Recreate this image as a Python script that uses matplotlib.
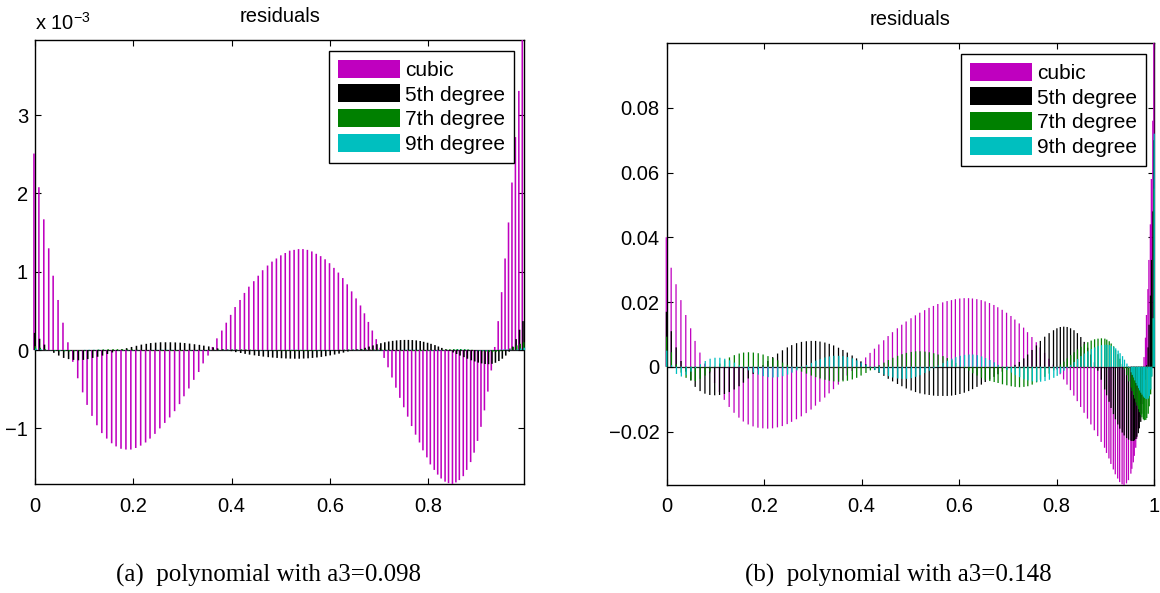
import numpy as np
import matplotlib
matplotlib.use("Agg")
import matplotlib.pyplot as plt

# ---------------------------------------------------------------- data
# (a) a3 = 0.098 : sample points and residuals, values in units of 1e-3
xa = [0.000, 0.010, 0.020, 0.030, 0.039, 0.049, 0.059, 0.069, 0.079, 0.089,
      0.099, 0.108, 0.118, 0.128, 0.138, 0.148, 0.158, 0.167, 0.177, 0.187,
      0.197, 0.207, 0.217, 0.227, 0.236, 0.246, 0.256, 0.266, 0.276, 0.286,
      0.296, 0.305, 0.315, 0.325, 0.335, 0.344, 0.354, 0.363, 0.372, 0.382,
      0.391, 0.400, 0.409, 0.419, 0.428, 0.437, 0.447, 0.456, 0.465, 0.475,
      0.484, 0.493, 0.502, 0.511, 0.520, 0.529, 0.538, 0.547, 0.556, 0.565,
      0.574, 0.583, 0.592, 0.601, 0.610, 0.619, 0.628, 0.637, 0.646, 0.655,
      0.664, 0.672, 0.680, 0.688, 0.696, 0.704, 0.712, 0.720, 0.728, 0.736,
      0.744, 0.752, 0.760, 0.768, 0.776, 0.784, 0.791, 0.799, 0.806, 0.814,
      0.821, 0.828, 0.836, 0.843, 0.851, 0.858, 0.865, 0.873, 0.880, 0.888,
      0.895, 0.902, 0.909, 0.916, 0.923, 0.930, 0.937, 0.944, 0.951, 0.958,
      0.965, 0.972, 0.979, 0.986, 0.993]

a_cubic = [2.51, 2.08, 1.67, 1.30, 0.95, 0.64, 0.35, 0.10, -0.15, -0.36,
           -0.54, -0.70, -0.84, -0.96, -1.06, -1.13, -1.19, -1.23, -1.26, -1.27,
           -1.27, -1.25, -1.22, -1.18, -1.13, -1.07, -1.00, -0.93, -0.86, -0.78,
           -0.69, -0.59, -0.49, -0.38, -0.28, -0.17, -0.07, 0.04, 0.15, 0.25,
           0.35, 0.45, 0.55, 0.64, 0.73, 0.81, 0.88, 0.95, 1.02, 1.08,
           1.13, 1.17, 1.21, 1.24, 1.27, 1.28, 1.29, 1.29, 1.28, 1.26,
           1.23, 1.20, 1.16, 1.11, 1.05, 0.99, 0.92, 0.84, 0.75, 0.66,
           0.57, 0.47, 0.36, 0.25, 0.14, 0.03, -0.10, -0.22, -0.35, -0.48,
           -0.61, -0.73, -0.85, -0.97, -1.08, -1.18, -1.28, -1.37, -1.46, -1.53,
           -1.59, -1.64, -1.68, -1.70, -1.71, -1.69, -1.66, -1.61, -1.53, -1.43,
           -1.31, -1.16, -0.98, -0.77, -0.53, -0.26, 0.04, 0.37, 0.74, 1.17,
           1.63, 2.14, 2.72, 3.31, 3.96]

a_deg5 = [0.22, 0.145, 0.07, 0.0, -0.035, -0.07, -0.10, -0.115, -0.125, -0.13,
          -0.125, -0.115, -0.10, -0.085, -0.07, -0.05, -0.03, -0.01, 0.01, 0.025,
          0.04, 0.055, 0.07, 0.08, 0.09, 0.095, 0.10, 0.10, 0.10, 0.098,
          0.095, 0.09, 0.083, 0.075, 0.067, 0.057, 0.047, 0.035, 0.022, 0.01,
          -0.002, -0.014, -0.026, -0.037, -0.048, -0.058, -0.067, -0.075, -0.083, -0.09,
          -0.096, -0.10, -0.104, -0.107, -0.109, -0.11, -0.11, -0.108, -0.105, -0.10,
          -0.094, -0.087, -0.078, -0.068, -0.057, -0.045, -0.032, -0.018, -0.005, 0.008,
          0.015, 0.03, 0.045, 0.06, 0.075, 0.088, 0.10, 0.11, 0.118, 0.124,
          0.128, 0.13, 0.13, 0.128, 0.124, 0.116, 0.106, 0.094, 0.08, 0.064,
          0.046, 0.028, 0.01, -0.01, -0.03, -0.05, -0.07, -0.09, -0.11, -0.13,
          -0.145, -0.16, -0.17, -0.178, -0.18, -0.175, -0.162, -0.14, -0.11, -0.07,
          -0.02, 0.045, 0.14, 0.26, 0.37]

a_deg7 = [0.05, 0.03, 0.012, 0.0, -0.008, -0.013, -0.015, -0.015, -0.013, -0.01,
          -0.006, -0.002, 0.002, 0.006, 0.009, 0.011, 0.012, 0.012, 0.011, 0.009,
          0.007, 0.004, 0.001, -0.002, -0.005, -0.007, -0.009, -0.01, -0.01, -0.01,
          -0.009, -0.007, -0.005, -0.003, -0.001, 0.002, 0.004, 0.006, 0.008, 0.009,
          0.01, 0.01, 0.01, 0.009, 0.008, 0.006, 0.004, 0.002, 0.0, -0.002,
          -0.004, -0.006, -0.007, -0.008, -0.009, -0.01, -0.01, -0.01, -0.009, -0.008,
          -0.006, -0.004, -0.002, 0.0, 0.002, 0.004, 0.006, 0.008, 0.009, 0.01,
          0.011, 0.011, 0.011, 0.01, 0.009, 0.007, 0.005, 0.003, 0.0, -0.003,
          -0.006, -0.008, -0.01, -0.012, -0.012, -0.012, -0.011, -0.009, -0.006, -0.003,
          0.0, 0.004, 0.008, 0.011, 0.013, 0.014, 0.014, 0.012, 0.009, 0.004,
          -0.002, -0.008, -0.014, -0.019, -0.022, -0.023, -0.021, -0.016, -0.008, 0.004,
          0.02, 0.04, 0.06, 0.08, 0.10]

a_deg9 = [0.02, 0.01, 0.003, -0.002, -0.004, -0.005, -0.004, -0.003, -0.001, 0.001,
          0.003, 0.004, 0.004, 0.004, 0.003, 0.001, -0.001, -0.003, -0.004, -0.004,
          -0.004, -0.003, -0.001, 0.001, 0.002, 0.003, 0.004, 0.004, 0.003, 0.002,
          0.0, -0.002, -0.003, -0.004, -0.004, -0.003, -0.002, 0.0, 0.002, 0.003,
          0.004, 0.004, 0.003, 0.002, 0.0, -0.002, -0.003, -0.004, -0.004, -0.003,
          -0.002, 0.0, 0.002, 0.003, 0.004, 0.004, 0.003, 0.002, 0.0, -0.002,
          -0.003, -0.004, -0.004, -0.003, -0.002, 0.0, 0.002, 0.003, 0.004, 0.004,
          0.003, 0.002, 0.0, -0.002, -0.003, -0.004, -0.004, -0.003, -0.001, 0.001,
          0.003, 0.004, 0.005, 0.004, 0.003, 0.001, -0.001, -0.003, -0.005, -0.005,
          -0.005, -0.003, -0.001, 0.002, 0.004, 0.006, 0.006, 0.005, 0.003, 0.0,
          -0.003, -0.006, -0.007, -0.007, -0.005, -0.002, 0.002, 0.006, 0.008, 0.008,
          0.005, 0.0, 0.01, 0.02, 0.03]

# (b) a3 = 0.148 : sample points and residuals, values in units of 1e-2
xb = [0.000, 0.010, 0.020, 0.030, 0.040, 0.050, 0.059, 0.069, 0.079, 0.089,
      0.099, 0.109, 0.119, 0.129, 0.139, 0.149, 0.158, 0.168, 0.178, 0.188,
      0.198, 0.208, 0.218, 0.228, 0.238, 0.248, 0.257, 0.267, 0.277, 0.287,
      0.297, 0.306, 0.315, 0.325, 0.334, 0.343, 0.353, 0.362, 0.371, 0.381,
      0.390, 0.399, 0.409, 0.418, 0.427, 0.436, 0.446, 0.455, 0.464, 0.474,
      0.483, 0.492, 0.502, 0.511, 0.520, 0.530, 0.539, 0.548, 0.557, 0.567,
      0.576, 0.585, 0.593, 0.602, 0.611, 0.620, 0.628, 0.637, 0.646, 0.654,
      0.663, 0.672, 0.680, 0.689, 0.698, 0.707, 0.715, 0.724, 0.733, 0.741,
      0.750, 0.759, 0.767, 0.776, 0.785, 0.794, 0.801, 0.808, 0.815, 0.822,
      0.829, 0.836, 0.843, 0.850, 0.857, 0.864, 0.871, 0.878, 0.885, 0.892,
      0.899, 0.903, 0.908, 0.912, 0.917, 0.921, 0.926, 0.930, 0.935, 0.939,
      0.944, 0.948, 0.953, 0.955, 0.958, 0.960, 0.963, 0.965, 0.968, 0.970,
      0.973, 0.975, 0.978, 0.980, 0.983, 0.985, 0.988, 0.990, 0.993, 0.995,
      0.998, 1.000]

b_cubic = [4.0, 3.06, 2.55, 2.06, 1.6, 1.19, 0.8, 0.44, 0.1, -0.2,
           -0.5, -0.78, -1.02, -1.24, -1.42, -1.57, -1.69, -1.78, -1.84, -1.88,
           -1.9, -1.91, -1.9, -1.87, -1.83, -1.77, -1.7, -1.62, -1.53, -1.43,
           -1.32, -1.2, -1.08, -0.95, -0.82, -0.69, -0.55, -0.41, -0.27, -0.13,
           0.01, 0.15, 0.29, 0.43, 0.56, 0.69, 0.82, 0.95, 1.07, 1.19,
           1.3, 1.4, 1.5, 1.59, 1.67, 1.75, 1.82, 1.88, 1.94, 1.99,
           2.03, 2.06, 2.09, 2.11, 2.12, 2.12, 2.11, 2.09, 2.06, 2.02,
           1.97, 1.91, 1.84, 1.76, 1.67, 1.57, 1.46, 1.34, 1.21, 1.07,
           0.92, 0.76, 0.6, 0.43, 0.25, 0.07, -0.08, -0.23, -0.39, -0.55,
           -0.72, -0.89, -1.06, -1.24, -1.42, -1.6, -1.78, -1.96, -2.14, -2.32,
           -2.5, -2.66, -2.83, -3.0, -3.17, -3.32, -3.45, -3.56, -3.63, -3.65,
           -3.6, -3.5, -3.3, -3.15, -2.95, -2.75, -2.5, -2.22, -1.9, -1.55,
           -1.15, -0.7, -0.25, 0.3, 0.9, 1.6, 2.4, 3.3, 4.4, 5.8,
           7.6, 10.0]

b_deg5 = [1.7, 1.1, 0.6, 0.18, -0.15, -0.42, -0.62, -0.75, -0.83, -0.87,
          -0.88, -0.87, -0.84, -0.78, -0.7, -0.6, -0.49, -0.36, -0.22, -0.08,
          0.05, 0.18, 0.3, 0.41, 0.51, 0.6, 0.67, 0.73, 0.77, 0.79,
          0.8, 0.8, 0.78, 0.75, 0.71, 0.66, 0.59, 0.52, 0.44, 0.35,
          0.26, 0.17, 0.08, -0.01, -0.1, -0.19, -0.28, -0.37, -0.45, -0.53,
          -0.6, -0.67, -0.73, -0.78, -0.82, -0.85, -0.87, -0.89, -0.9, -0.9,
          -0.9, -0.89, -0.87, -0.84, -0.8, -0.75, -0.69, -0.62, -0.55, -0.47,
          -0.39, -0.31, -0.23, -0.15, -0.07, 0.0, 0.06, 0.15, 0.26, 0.38,
          0.52, 0.66, 0.8, 0.93, 1.04, 1.13, 1.19, 1.23, 1.24, 1.23,
          1.19, 1.13, 1.04, 0.92, 0.77, 0.59, 0.38, 0.14, -0.12, -0.4,
          -0.7, -0.88, -1.08, -1.27, -1.46, -1.62, -1.78, -1.91, -2.03, -2.12,
          -2.2, -2.25, -2.28, -2.29, -2.29, -2.27, -2.23, -2.16, -2.05, -1.9,
          -1.7, -1.45, -1.15, -0.8, -0.4, 0.05, 0.6, 1.3, 2.2, 3.3,
          4.8, 7.0]

b_deg7 = [0.93, 0.45, 0.08, -0.18, -0.34, -0.42, -0.44, -0.37, -0.27, -0.15,
          -0.02, 0.1, 0.2, 0.29, 0.36, 0.41, 0.44, 0.45, 0.44, 0.42,
          0.38, 0.33, 0.27, 0.2, 0.13, 0.06, -0.01, -0.08, -0.15, -0.21,
          -0.27, -0.32, -0.36, -0.4, -0.43, -0.45, -0.46, -0.45, -0.43, -0.39,
          -0.34, -0.27, -0.19, -0.11, -0.03, 0.05, 0.13, 0.21, 0.28, 0.34,
          0.39, 0.43, 0.46, 0.48, 0.48, 0.47, 0.45, 0.42, 0.38, 0.33,
          0.27, 0.2, 0.12, 0.04, -0.04, -0.12, -0.2, -0.27, -0.34, -0.4,
          -0.44, -0.47, -0.5, -0.54, -0.57, -0.6, -0.62, -0.63, -0.62, -0.6,
          -0.55, -0.48, -0.4, -0.31, -0.21, -0.11, -0.02, 0.07, 0.16, 0.26,
          0.36, 0.45, 0.54, 0.62, 0.7, 0.76, 0.81, 0.85, 0.87, 0.88,
          0.87, 0.84, 0.79, 0.72, 0.63, 0.52, 0.39, 0.25, 0.09, -0.08,
          -0.26, -0.45, -0.64, -0.75, -0.87, -0.98, -1.1, -1.2, -1.31, -1.4,
          -1.49, -1.56, -1.62, -1.65, -1.64, -1.58, -1.45, -1.22, -0.85, -0.3,
          1.5, 5.5]

b_deg9 = [0.5, 0.05, -0.22, -0.3, -0.25, -0.15, -0.04, 0.08, 0.18, 0.25,
          0.28, 0.28, 0.25, 0.2, 0.13, 0.05, -0.03, -0.11, -0.18, -0.24,
          -0.29, -0.32, -0.33, -0.32, -0.29, -0.24, -0.18, -0.11, -0.03, 0.05,
          0.12, 0.19, 0.24, 0.29, 0.32, 0.34, 0.34, 0.33, 0.3, 0.26,
          0.2, 0.13, 0.06, -0.02, -0.1, -0.17, -0.24, -0.29, -0.33, -0.36,
          -0.37, -0.37, -0.35, -0.31, -0.26, -0.19, -0.12, -0.04, 0.04, 0.12,
          0.19, 0.25, 0.3, 0.34, 0.37, 0.38, 0.38, 0.36, 0.32, 0.27,
          0.21, 0.14, 0.06, -0.02, -0.1, -0.18, -0.26, -0.32, -0.38, -0.42,
          -0.45, -0.46, -0.46, -0.44, -0.4, -0.34, -0.28, -0.2, -0.12, -0.03,
          0.06, 0.15, 0.24, 0.33, 0.41, 0.48, 0.55, 0.6, 0.64, 0.67,
          0.68, 0.68, 0.67, 0.65, 0.62, 0.57, 0.5, 0.42, 0.33, 0.22,
          0.1, -0.03, -0.17, -0.25, -0.33, -0.42, -0.5, -0.58, -0.66, -0.73,
          -0.8, -0.86, -0.92, -0.96, -0.99, -1.0, -0.98, -0.9, -0.7, -0.3,
          1.5, 7.2]
B_UNIT = 1e-2

labels = ["cubic", "5th degree", "7th degree", "9th degree"]
colors = ["#bf00bf", "#000000", "#008000", "#00bfbf"]

xticks_a = [0, 0.2, 0.4, 0.6, 0.8]
xticklabels_a = ["0", "0.2", "0.4", "0.6", "0.8"]
yticks_a = [-1, 0, 1, 2, 3]
yticklabels_a = ["\u22121", "0", "1", "2", "3"]

xticks_b = [0, 0.2, 0.4, 0.6, 0.8, 1.0]
xticklabels_b = ["0", "0.2", "0.4", "0.6", "0.8", "1"]
yticks_b = [-0.02, 0, 0.02, 0.04, 0.06, 0.08]
yticklabels_b = ["\u22120.02", "0", "0.02", "0.04", "0.06", "0.08"]

# ---------------------------------------------------------------- style
plt.rcParams["font.family"] = ["Liberation Sans", "DejaVu Sans"]
plt.rcParams["mathtext.fontset"] = "custom"
plt.rcParams["mathtext.rm"] = "Liberation Sans"
plt.rcParams["mathtext.it"] = "Liberation Sans:italic"
FS = 14.5
LEG_FS = 15

W, H = 1160, 593
fig = plt.figure(figsize=(W / 100, H / 100), dpi=100)


def axes_px(left, top, right, bottom):
    return fig.add_axes([left / W, 1 - bottom / H, (right - left) / W, (bottom - top) / H])


def grouped_bars(ax, x, series, step, width):
    x = np.asarray(x, dtype=float)
    for k, vals in enumerate(series):
        ax.bar(x + (k - 1.5) * step, vals, width=width, color=colors[k],
               linewidth=0, label=labels[k], zorder=3, snap=False, clip_on=False)
    ax.axhline(0, color="#202020", lw=0.9, zorder=1.5)


def style_axes(ax, xt, xtl, yt, ytl):
    ax.set_xticks(xt)
    ax.set_xticklabels(xtl)
    ax.set_yticks(yt)
    ax.set_yticklabels(ytl)
    ax.tick_params(direction="in", length=4.5, width=0.8, top=True, right=True,
                   labelsize=FS, colors="black")
    ax.tick_params(axis="x", pad=9)
    ax.tick_params(axis="y", pad=5)
    for s in ax.spines.values():
        s.set_linewidth(1.0)
    ax.set_title("residuals", fontsize=FS, pad=13)


def add_legend(ax, right_px, top_px):
    leg = ax.legend(loc="upper right", bbox_to_anchor=(right_px / W, 1 - top_px / H),
                    bbox_transform=fig.transFigure, borderaxespad=0,
                    fontsize=LEG_FS, handlelength=3.0, handleheight=0.95,
                    handletextpad=0.25, labelspacing=0.22, borderpad=0.42,
                    fancybox=False, framealpha=1, edgecolor="black")
    leg.get_frame().set_linewidth(1.0)
    leg.set_zorder(6)


# (a)
axA = axes_px(35, 40, 524.3, 484)
grouped_bars(axA, xa, [a_cubic, a_deg5, a_deg7, a_deg9], step=0.0014, width=0.0032)
axA.set_xlim(0, 0.995)
axA.set_ylim(-1.71, 3.96)
style_axes(axA, xticks_a, xticklabels_a, yticks_a, yticklabels_a)
add_legend(axA, 514, 51)
fig.text(35 / W, 1 - 30 / H, r"x 10$^{-3}$", fontsize=FS, ha="left", va="baseline")

# (b)
axB = axes_px(666.5, 43, 1154, 485)
b_series = [np.asarray(s) * B_UNIT for s in (b_cubic, b_deg5, b_deg7, b_deg9)]
grouped_bars(axB, xb, b_series, step=0.0003, width=0.0026)
axB.set_xlim(0, 1.0)
axB.set_ylim(-0.0365, 0.100)
style_axes(axB, xticks_b, xticklabels_b, yticks_b, yticklabels_b)
add_legend(axB, 1146, 54)

# sub-figure captions
cap_font = ["Liberation Serif", "DejaVu Serif"]
fig.text(268 / W, 1 - 582 / H, "(a)  polynomial with a3=0.098", family=cap_font,
         fontsize=18, ha="center", va="baseline")
fig.text(898 / W, 1 - 582 / H, "(b)  polynomial with a3=0.148", family=cap_font,
         fontsize=18, ha="center", va="baseline")

fig.savefig("out.png", dpi=100)
